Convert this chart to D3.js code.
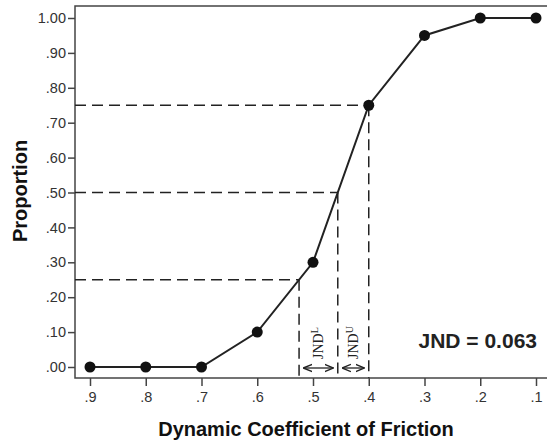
<!DOCTYPE html>
<html>
<head>
<meta charset="utf-8">
<script src="https://cdn.jsdelivr.net/npm/d3@7"></script>
<style>
  body { margin: 0; background: #fff; }
  svg { display: block; font-family: Arial, "Liberation Sans", sans-serif; }
</style>
</head>
<body>
<svg id="chart" width="547" height="444"></svg>
<script>
// friction values (x axis is reversed: .9 on the left)
const friction = [0.9, 0.8, 0.7, 0.6, 0.5, 0.4, 0.3, 0.2, 0.1];
const proportion = [0, 0, 0, 0.10, 0.30, 0.75, 0.95, 1.00, 1.00];
const yTicks = [0, 0.1, 0.2, 0.3, 0.4, 0.5, 0.6, 0.7, 0.8, 0.9, 1.0];
const guideLevels = [0.25, 0.50, 0.75];
const jndText = "JND = 0.063";

const svg = d3.select("#chart");
const frame = { left: 75, right: 548, top: 6, bottom: 378 };

const x = d3.scaleLinear().domain([0.9, 0.1]).range([90, 536]);
const y = d3.scaleLinear().domain([0, 1]).range([367, 18]);

// where the curve crosses a proportion level (linear between points)
function crossAt(p) {
  for (let i = 0; i < proportion.length - 1; i++) {
    const a = proportion[i], b = proportion[i + 1];
    if (p >= a && p <= b && b > a) {
      const t = (p - a) / (b - a);
      return friction[i] + t * (friction[i + 1] - friction[i]);
    }
  }
  return null;
}

// frame
svg.append("rect")
  .attr("x", frame.left).attr("y", frame.top)
  .attr("width", frame.right - frame.left)
  .attr("height", frame.bottom - frame.top)
  .attr("fill", "none")
  .attr("stroke", "#444")
  .attr("stroke-width", 1.5);

// y axis
const yAxis = svg.append("g")
  .attr("transform", `translate(${frame.left},0)`)
  .call(d3.axisLeft(y).tickValues(yTicks).tickSize(7).tickPadding(2)
    .tickFormat(d => d === 1 ? "1.00" : d3.format(".2f")(d).replace(/^0/, "")));
yAxis.select(".domain").remove();
yAxis.selectAll("line").attr("stroke", "#444").attr("stroke-width", 1.5);
yAxis.selectAll("text").attr("font-size", 14.5).attr("fill", "#333")
  .attr("font-family", "Arial, 'Liberation Sans', sans-serif");

// x axis
const xAxis = svg.append("g")
  .attr("transform", `translate(0,${frame.bottom})`)
  .call(d3.axisBottom(x).tickValues(friction).tickSize(8).tickPadding(6)
    .tickFormat(d => d3.format(".1f")(d).replace(/^0/, "")));
xAxis.select(".domain").remove();
xAxis.selectAll("line").attr("stroke", "#444").attr("stroke-width", 1.5);
xAxis.selectAll("text").attr("font-size", 14.5).attr("fill", "#333")
  .attr("font-family", "Arial, 'Liberation Sans', sans-serif");

// dashed guide lines
const guides = svg.append("g")
  .attr("stroke", "#222")
  .attr("stroke-width", 1.5)
  .attr("stroke-dasharray", "11,6")
  .attr("fill", "none");
guideLevels.forEach(p => {
  const fx = crossAt(p);
  guides.append("line")
    .attr("x1", frame.left).attr("x2", x(fx))
    .attr("y1", y(p)).attr("y2", y(p));
  guides.append("line")
    .attr("x1", x(fx)).attr("x2", x(fx))
    .attr("y1", y(p)).attr("y2", frame.bottom);
});

// data line and points
svg.append("path")
  .datum(friction.map((f, i) => [f, proportion[i]]))
  .attr("fill", "none")
  .attr("stroke", "#222")
  .attr("stroke-width", 2)
  .attr("d", d3.line().x(d => x(d[0])).y(d => y(d[1])));

svg.append("g")
  .selectAll("circle")
  .data(friction.map((f, i) => [f, proportion[i]]))
  .enter()
  .append("circle")
  .attr("cx", d => x(d[0]))
  .attr("cy", d => y(d[1]))
  .attr("r", 5.5)
  .attr("fill", "#111");

// JND arrows and labels
const defs = svg.append("defs");
defs.append("marker")
  .attr("id", "ah")
  .attr("viewBox", "0 0 10 10")
  .attr("refX", 9).attr("refY", 5)
  .attr("markerWidth", 7).attr("markerHeight", 7)
  .attr("orient", "auto-start-reverse")
  .append("path")
  .attr("d", "M0,1 L10,5 L0,9")
  .attr("fill", "none")
  .attr("stroke", "#222")
  .attr("stroke-width", 1.5);

const xs = guideLevels.map(p => x(crossAt(p)));
const jndParts = [
  { a: xs[0], b: xs[1], sup: "L" },
  { a: xs[1], b: xs[2], sup: "U" }
];
jndParts.forEach(d => {
  const ay = 368;
  svg.append("line")
    .attr("x1", d.a + 5).attr("x2", d.b - 5)
    .attr("y1", ay).attr("y2", ay)
    .attr("stroke", "#222").attr("stroke-width", 1.3)
    .attr("marker-start", "url(#ah)")
    .attr("marker-end", "url(#ah)");
  const cx = (d.a + d.b) / 2;
  const t = svg.append("text")
    .attr("transform", `translate(${cx + 5},${359}) rotate(-90)`)
    .attr("font-family", "'Liberation Serif', 'DejaVu Serif', serif")
    .attr("font-size", 14)
    .attr("fill", "#222");
  t.append("tspan").text("JND");
  t.append("tspan").attr("dy", -5).attr("font-size", 10).text(d.sup);
});

// JND value
svg.append("text")
  .attr("x", 537).attr("y", 348)
  .attr("text-anchor", "end")
  .attr("font-size", 21)
  .attr("font-weight", "bold")
  .attr("fill", "#222")
  .text(jndText);

// axis titles
svg.append("text")
  .attr("x", 306).attr("y", 436)
  .attr("text-anchor", "middle")
  .attr("font-size", 20)
  .attr("font-weight", "bold")
  .attr("fill", "#111")
  .text("Dynamic Coefficient of Friction");

svg.append("text")
  .attr("transform", `translate(27,191) rotate(-90)`)
  .attr("text-anchor", "middle")
  .attr("font-size", 20)
  .attr("font-weight", "bold")
  .attr("fill", "#111")
  .text("Proportion");
</script>
</body>
</html>
